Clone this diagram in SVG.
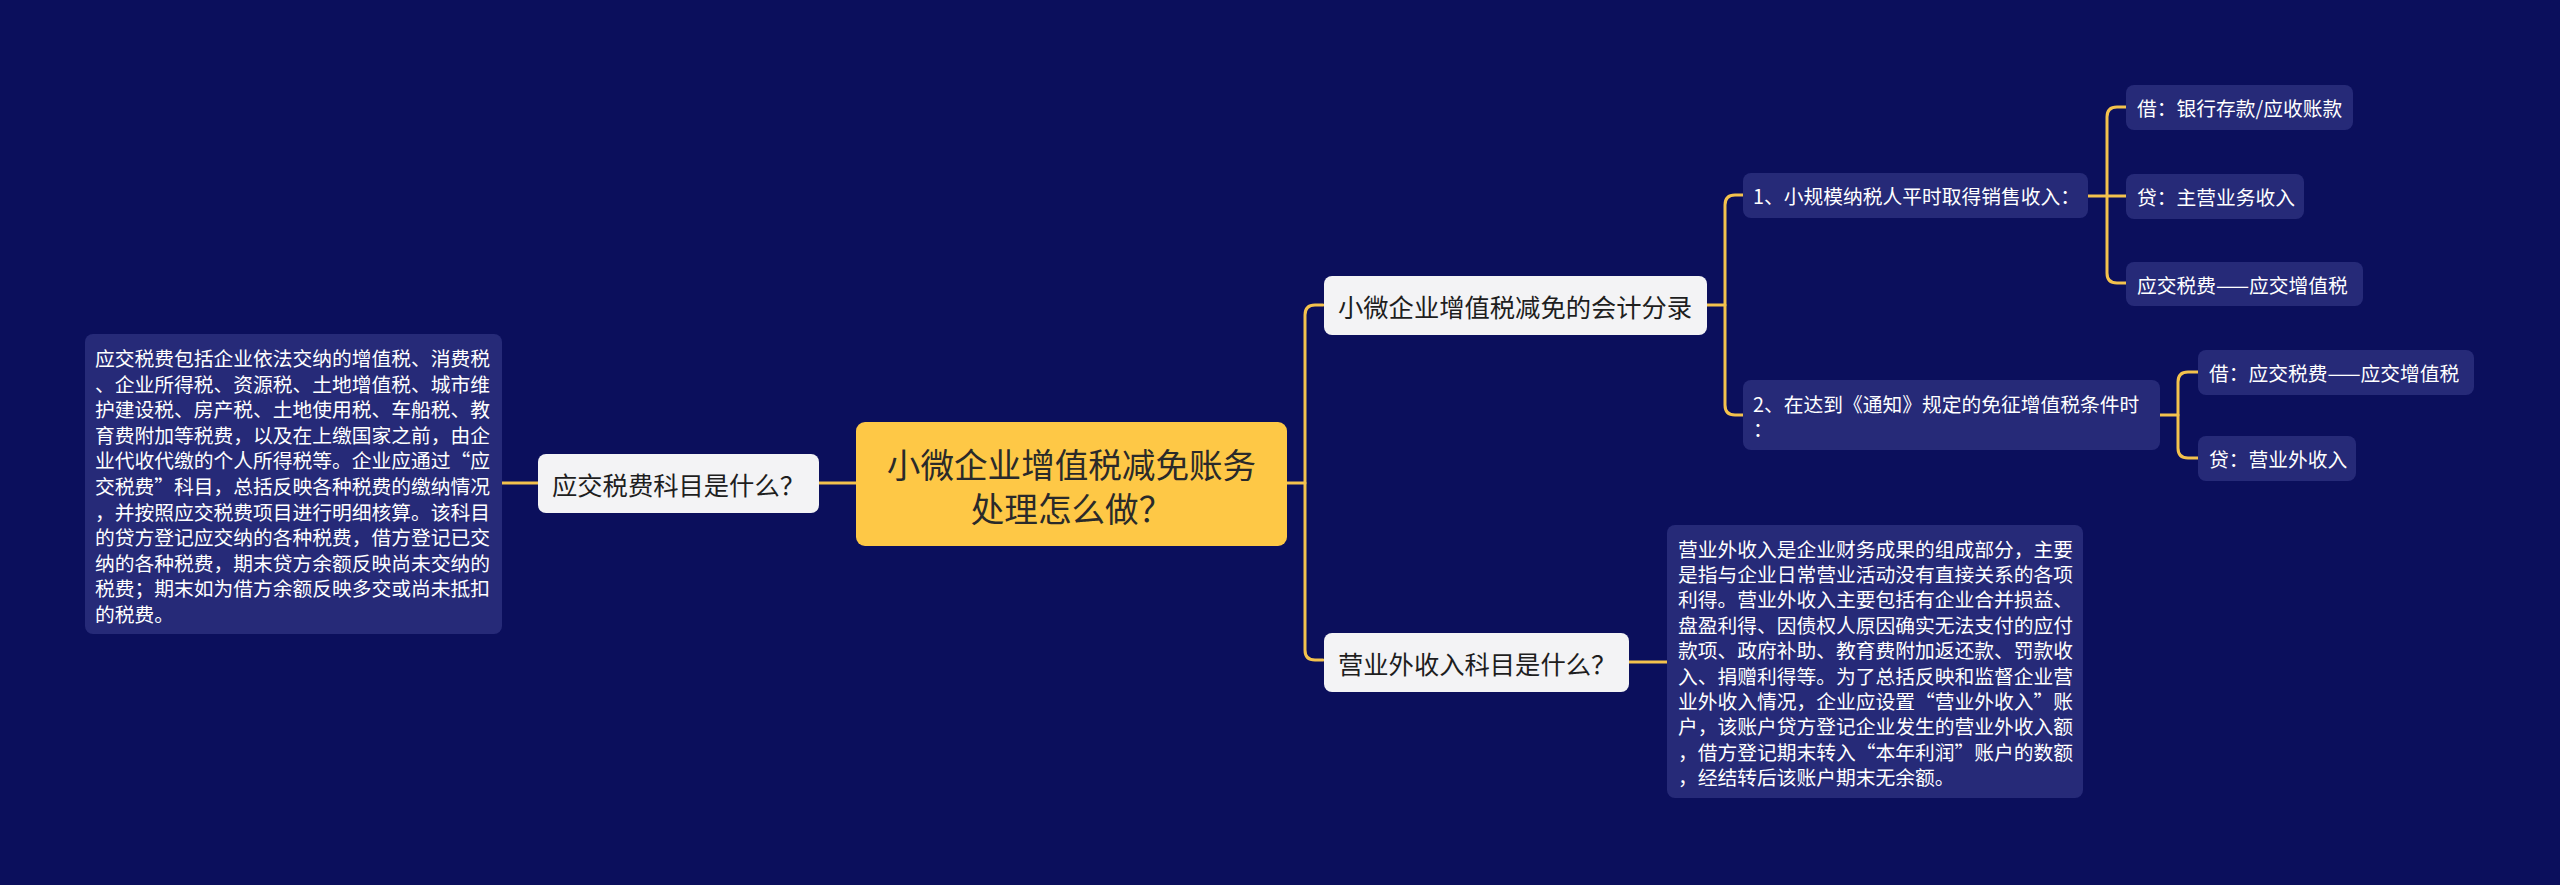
<svg xmlns="http://www.w3.org/2000/svg" width="2560" height="885" viewBox="0 0 2560 885">
<style>
text{font-family:"Noto Sans CJK SC","Noto Sans",sans-serif;dominant-baseline:central}
.bg{fill:#0b0f5c}
.root rect{fill:#fec846}
.root text{font-size:33.6px;fill:#2a2a2a;text-anchor:middle}
.l1 rect{fill:#f3f3f5}
.l1 text{font-size:25.3px;fill:#1e1e1e}
.l2 rect{fill:#262a78}
.l2 text{font-size:19.75px;fill:#ffffff}
.conn path{fill:none;stroke:#f4c24d;stroke-width:3;stroke-linecap:round;stroke-linejoin:round}
</style>
<rect class="bg" x="0" y="0" width="2560" height="885"/>
<g class="conn" id="connectors">
<path d="M502,483 H538"/>
<path d="M819,483 H856"/>
<path d="M1287,483 H1305"/>
<path d="M1323,305 H1315 Q1305,305 1305,315 V650 Q1305,660 1315,660 H1323"/>
<path d="M1707,305 H1725"/>
<path d="M1743,195 H1735 Q1725,195 1725,205 V405 Q1725,415 1735,415 H1743"/>
<path d="M2088,196 H2126"/>
<path d="M2126,107 H2117 Q2107,107 2107,117 V273 Q2107,283 2117,283 H2126"/>
<path d="M2160,415 H2178"/>
<path d="M2198,372 H2188 Q2178,372 2178,382 V448 Q2178,458 2188,458 H2198"/>
<path d="M1629,662 H1667"/>
</g>
<g class="root" id="root">
<rect x="856" y="422" width="431" height="124" rx="9"/>
<text x="1071.5" y="463">小微企业增值税减免账务</text>
<text x="1071.5" y="507">处理怎么做？</text>
</g>
<g class="l1" id="n-yingjiao">
<rect x="538" y="454" width="281" height="59" rx="8"/>
<text x="552" y="484">应交税费科目是什么？</text>
</g>
<g class="l2" id="n-yingjiao-desc">
<rect x="85" y="334" width="417" height="300" rx="8"/>
<text x="95" y="357.5">应交税费包括企业依法交纳的增值税、消费税</text>
<text x="95" y="383.1">、企业所得税、资源税、土地增值税、城市维</text>
<text x="95" y="408.7">护建设税、房产税、土地使用税、车船税、教</text>
<text x="95" y="434.3">育费附加等税费，以及在上缴国家之前，由企</text>
<text x="95" y="459.9">业代收代缴的个人所得税等。企业应通过“应</text>
<text x="95" y="485.5">交税费”科目，总括反映各种税费的缴纳情况</text>
<text x="95" y="511.1">，并按照应交税费项目进行明细核算。该科目</text>
<text x="95" y="536.7">的贷方登记应交纳的各种税费，借方登记已交</text>
<text x="95" y="562.3">纳的各种税费，期末贷方余额反映尚未交纳的</text>
<text x="95" y="587.9">税费；期末如为借方余额反映多交或尚未抵扣</text>
<text x="95" y="613.5">的税费。</text>
</g>
<g class="l1" id="n-fenlu">
<rect x="1324" y="276" width="383" height="59" rx="8"/>
<text x="1338" y="306">小微企业增值税减免的会计分录</text>
</g>
<g class="l1" id="n-yingyewai">
<rect x="1324" y="633" width="305" height="59" rx="8"/>
<text x="1338" y="663">营业外收入科目是什么？</text>
</g>
<g class="l2" id="n-yingyewai-desc">
<rect x="1667" y="525" width="416" height="273" rx="8"/>
<text x="1678" y="548">营业外收入是企业财务成果的组成部分，主要</text>
<text x="1678" y="573.4">是指与企业日常营业活动没有直接关系的各项</text>
<text x="1678" y="598.8">利得。营业外收入主要包括有企业合并损益、</text>
<text x="1678" y="624.2">盘盈利得、因债权人原因确实无法支付的应付</text>
<text x="1678" y="649.6">款项、政府补助、教育费附加返还款、罚款收</text>
<text x="1678" y="675">入、捐赠利得等。为了总括反映和监督企业营</text>
<text x="1678" y="700.4">业外收入情况，企业应设置“营业外收入”账</text>
<text x="1678" y="725.8">户，该账户贷方登记企业发生的营业外收入额</text>
<text x="1678" y="751.2">，借方登记期末转入“本年利润”账户的数额</text>
<text x="1678" y="776.6">，经结转后该账户期末无余额。</text>
</g>
<g class="l2" id="n-step1">
<rect x="1743" y="173" width="345" height="45" rx="8"/>
<text x="1753" y="195.5">1、小规模纳税人平时取得销售收入：</text>
</g>
<g class="l2" id="n-step2">
<rect x="1743" y="380" width="417" height="70" rx="8"/>
<text x="1753" y="403">2、在达到《通知》规定的免征增值税条件时</text>
<text x="1753" y="428">：</text>
</g>
<g class="l2" id="n-s1-a">
<rect x="2126" y="85" width="227" height="45" rx="8"/>
<text x="2137" y="107.5">借：银行存款/应收账款</text>
</g>
<g class="l2" id="n-s1-b">
<rect x="2126" y="174" width="178" height="45" rx="8"/>
<text x="2137" y="196.5">贷：主营业务收入</text>
</g>
<g class="l2" id="n-s1-c">
<rect x="2126" y="262" width="237" height="44" rx="8"/>
<text x="2137" y="284">应交税费——应交增值税</text>
</g>
<g class="l2" id="n-s2-a">
<rect x="2198" y="350" width="276" height="45" rx="8"/>
<text x="2209" y="372.5">借：应交税费——应交增值税</text>
</g>
<g class="l2" id="n-s2-b">
<rect x="2198" y="436" width="158" height="45" rx="8"/>
<text x="2209" y="458.5">贷：营业外收入</text>
</g>
</svg>
